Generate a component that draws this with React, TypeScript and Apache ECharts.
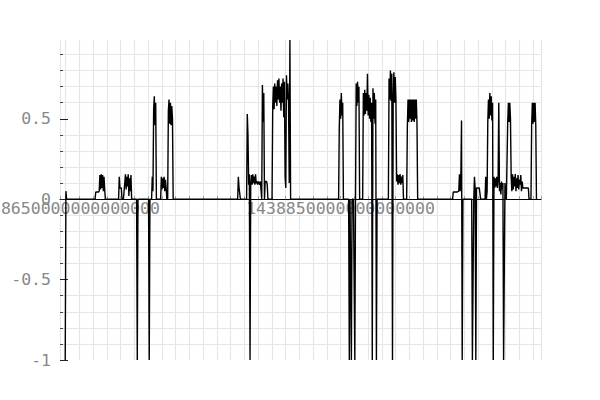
import { useEffect, useRef } from "react";
import * as echarts from "echarts";

// Time is kept in thousands of seconds (1 unit = 1e12 ns); labels print nanoseconds.
const STEP = 0.5; // sampling step of the series, in thousands of seconds

const segmentStarts = [
  1438649.8, 1438671.5, 1438688.6, 1438701.7, 1438710.4, 1438712.6, 1438719.2,
  1438724.3, 1438775.2, 1438781.7, 1438800.2, 1438848.6, 1438855.9, 1438866.1,
  1438884.8, 1438898.1, 1438931.5, 1438945.4, 1438955.1, 1438971.1, 1438988.5,
];

const segmentValues: number[][] = [
  [-1, 0.05, 0],
  [0, 0.045, 0.045, 0.045, 0.045, 0.045, 0.05, 0.15, 0.06, 0.155, 0.07, 0.15, 0.05, 0.14, 0.06, 0],
  [0, 0.14, 0.07, 0.07, 0.07, 0, 0, 0, 0, 0.1, 0.155, 0.06, 0.14, 0.08, 0.155, 0.02, 0.13, 0.05, 0.15, 0],
  [0, -1, 0],
  [0, -1, 0],
  [0, 0.14, 0.05, 0.56, 0.64, 0.46, 0.6, 0],
  [0, 0.14, 0.06, 0.13, 0.07, 0.14, 0.05, 0.12, 0.07, 0],
  [0, 0.55, 0.62, 0.47, 0.6, 0.46, 0.58, 0.5, 0],
  [0, 0.14, 0.07, 0.07, 0],
  [0, 0.53, 0.4, 0.09, 0.155, -1, 0.1, 0.15, 0.09, 0.155, 0.1, 0.14, 0.09, 0.155, 0.1, 0.11,
    0.09, 0.11, 0.11, 0.09, 0.11, 0.11, 0, 0.71, 0.48, 0.66, 0, 0.11, 0.11, 0.11, 0.09, 0],
  [0, 0.58, 0.7, 0.56, 0.72, 0.6, 0.7, 0.58, 0.74, 0.62, 0.75, 0.6, 0.7, 0.55, 0.72, 0.6,
    0.75, 0.51, 0.73, 0.14, 0.07, 0.77, 0.62, 0.72, 0.6, 0.1, 0.99, 0],
  [0, 0.45, 0.62, 0.5, 0.66, 0.52, 0.6, 0],
  [0, -1, 0, 0, -1, 0, 0, 0, 0, -1, 0, 0.72, 0.58, 0.73, 0.6, 0.7, 0],
  [0, 0.66, 0.52, 0.68, 0.53, 0.66, 0.55, 0.78, 0.52, 0.65, 0.5, 0.63, 0.48, 0.6, -1, 0.69,
    0.5, 0.66, 0.47, 0.62, -1, 0],
  [0, 0.75, 0.62, 0.8, 0.61, 0.78, -1, 0.63, 0.79, 0.6, 0.76, 0.62, 0.11, 0.155, 0.09, 0.15,
    0.1, 0.157, 0.09, 0.14, 0.1, 0.15, 0],
  [0, 0.45, 0.62, 0.48, 0.62, 0.5, 0.62, 0.48, 0.62, 0.49, 0.62, 0.48, 0.62, 0.5, 0.62, 0.48, 0],
  [0, 0.045, 0.045, 0.045, 0.045, 0.045, 0.045, 0.045, 0.045, 0.05, 0.155, 0.05, 0.14, 0.49, -1, 0],
  [0, -1, -1, 0, 0.14, 0.07, -1, 0.07, 0.07, 0.07, 0.07, 0.07, 0.07, 0],
  [0, 0.14, 0, 0.05, 0.48, 0.62, 0.5, 0.66, 0.52, 0.64, 0.49, 0.6, -1, 0.14, 0.07, 0.13,
    0.08, 0.14, 0.07, 0.12, 0.6, 0.05, 0.1, 0.03, 0.11, 0.06, 0.1, -1, -1, 0.1, 0.04, 0],
  [0, 0.48, 0.6, 0.48, 0.6, 0.5, 0.14, 0.05, 0.155, 0.06, 0.14, 0.08, 0.157, 0.05, 0.13, 0.07,
    0.15, 0.06, 0.12, 0.09, 0.15, 0.05, 0.11, 0.07, 0.07, 0.07, 0.07, 0.07, 0.07, 0.07, 0.07, 0.07, 0],
  [0, 0.46, 0.6, 0.47, 0.6, 0.48, 0.6, 0.46, 0],
];

const xLabelValues = [1438650, 1438850];
const yLabelValues = [-1, -0.5, 0, 0.5];
const yMinorTickValues = [
  -0.9, -0.8, -0.7, -0.6, -0.4, -0.3, -0.2, -0.1, 0.1, 0.2, 0.3, 0.4, 0.6, 0.7, 0.8, 0.9,
];
const X_MIN = 1438646.0;
const X_MAX = 1438995.8;
const Y_MIN = -1;
const Y_MAX = 0.99;

const GRID_TOP = 40;
const GRID_BOTTOM = 40;
const PLOT_HEIGHT = 400 - GRID_TOP - GRID_BOTTOM;
// the x axis sits on y = 0: shift it up from the bottom edge by the pixel span of [Y_MIN, 0]
const X_AXIS_OFFSET = -((0 - Y_MIN) / (Y_MAX - Y_MIN)) * PLOT_HEIGHT;

const FONT = "DejaVu Sans Mono";
const GRID_COLOR = "#e6e6e6";
const LABEL_COLOR = "#888";

export default function App() {
  const ref = useRef<HTMLDivElement>(null);

  useEffect(() => {
    if (!ref.current) return;
    const chart = echarts.init(ref.current, null, { renderer: "svg" });
    const data = segmentStarts.flatMap((s, k) =>
      segmentValues[k].map((v, i) => [s + i * STEP, v])
    );
    chart.setOption({
      animation: false,
      backgroundColor: "#fff",
      grid: {
        left: 60,
        right: 59,
        top: GRID_TOP,
        bottom: GRID_BOTTOM,
        containLabel: false,
        outerBoundsMode: "none",
      },
      xAxis: {
        type: "value",
        position: "bottom",
        offset: X_AXIS_OFFSET,
        min: X_MIN,
        max: X_MAX,
        minInterval: 10,
        maxInterval: 10,
        axisLine: { show: true, onZero: false, lineStyle: { color: "#000", width: 1 } },
        axisTick: { show: true, inside: true, length: 3, lineStyle: { color: "#999" } },
        axisLabel: {
          customValues: xLabelValues,
          formatter: (v: number) => `${Math.round(v)}000000000000`,
          fontFamily: FONT,
          fontSize: 16.5,
          color: LABEL_COLOR,
          margin: 1,
          hideOverlap: false,
        },
        splitLine: { show: true, lineStyle: { color: GRID_COLOR, width: 1.2 } },
      },
      yAxis: [
        {
          type: "value",
          position: "left",
          min: Y_MIN,
          max: Y_MAX,
          interval: 0.1,
          axisLine: { show: false, onZero: false },
          axisTick: {
            show: true,
            inside: true,
            length: 3,
            customValues: yMinorTickValues,
            lineStyle: { color: "#444" },
          },
          axisLabel: { show: false },
          splitLine: { show: true, lineStyle: { color: GRID_COLOR, width: 1.2 } },
        },
        {
          type: "value",
          position: "left",
          offset: 0,
          min: Y_MIN,
          max: Y_MAX,
          interval: 0.5,
          axisLine: { show: false, onZero: false },
          axisTick: {
            show: true,
            inside: true,
            length: 8,
            customValues: yLabelValues,
            lineStyle: { color: "#222" },
          },
          axisLabel: {
            customValues: yLabelValues,
            fontFamily: FONT,
            fontSize: 16.5,
            color: LABEL_COLOR,
            margin: 9,
          },
          splitLine: { show: false },
        },
      ],
      series: [
        {
          type: "line",
          data,
          yAxisIndex: 0,
          symbol: "none",
          showSymbol: false,
          lineStyle: { color: "#000", width: 1.4 },
          clip: true,
        },
      ],
    });
    return () => chart.dispose();
  }, []);

  return (
    <div
      ref={ref}
      style={{ position: "fixed", left: 0, top: 0, width: 600, height: 400, background: "#fff" }}
    />
  );
}
